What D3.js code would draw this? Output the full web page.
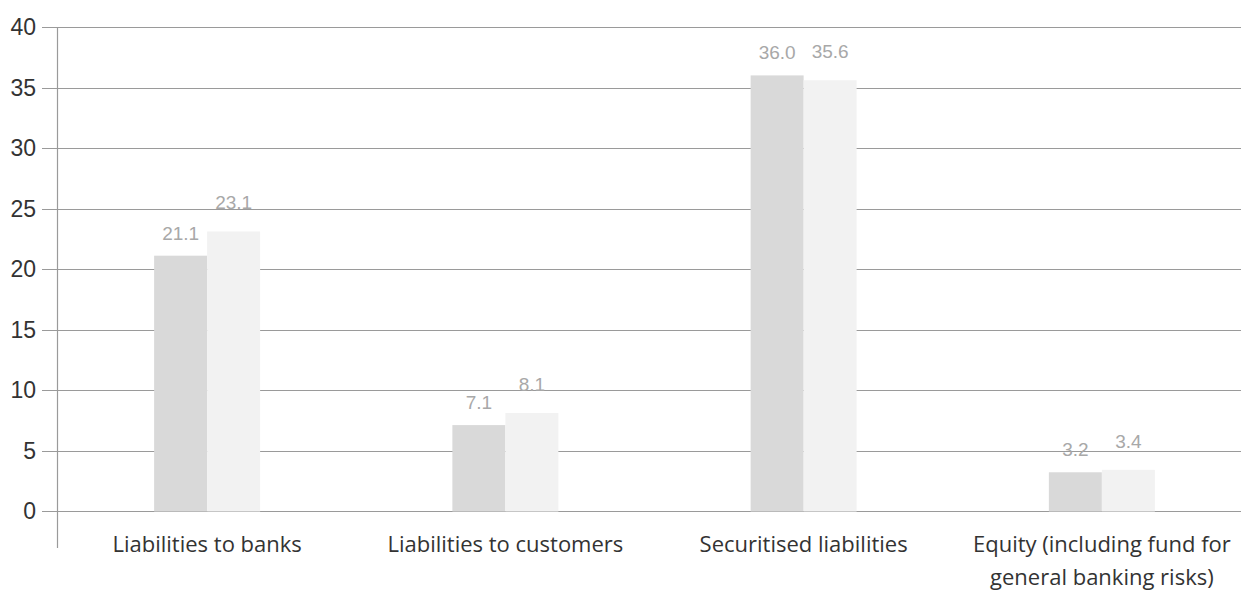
<!DOCTYPE html>
<html>
<head>
<meta charset="utf-8">
<script src="https://cdn.jsdelivr.net/npm/d3@7"></script>
<style>
  body { margin: 0; background: #fff; }
  svg { display: block; }
</style>
</head>
<body>
<svg width="1241" height="592"></svg>
<script>
// categories and values (EUR bn, two years)
var categories = [
    ["Liabilities to banks"],
    ["Liabilities to customers"],
    ["Securitised liabilities"],
    ["Equity (including fund for", "general banking risks)"]
];
var series1 = [21.1, 7.1, 36.0, 3.2];
var series2 = [23.1, 8.1, 35.6, 3.4];
var yTicks = [0, 5, 10, 15, 20, 25, 30, 35, 40];

var svg = d3.select("svg"),
    x0 = 58, x1 = 1251,
    yTop = 27, yBot = 511;

var x = d3.scaleBand()
    .domain(d3.range(categories.length))
    .range([x0, x1])
    .paddingInner(0)
    .paddingOuter(0);

var y = d3.scaleLinear().domain([0, 40]).range([yBot, yTop]);

var barW = 53;

// gridlines
svg.append("g").selectAll("line")
    .data(yTicks)
    .enter().append("line")
    .attr("x1", 42).attr("x2", 1241)
    .attr("y1", function(d) { return Math.round(y(d)) + 0.5; })
    .attr("y2", function(d) { return Math.round(y(d)) + 0.5; })
    .attr("stroke", "#9a9a9a")
    .attr("stroke-width", 1.2);

// y axis line
svg.append("line")
    .attr("x1", 57.5).attr("x2", 57.5)
    .attr("y1", yTop).attr("y2", 548)
    .attr("stroke", "#9a9a9a")
    .attr("stroke-width", 1.2);

// tick labels
svg.append("g").selectAll("text")
    .data(yTicks)
    .enter().append("text")
    .attr("x", 36)
    .attr("y", function(d) { return y(d); })
    .attr("dy", "0.36em")
    .attr("text-anchor", "end")
    .style("font-family", "'Liberation Sans', Arial, sans-serif")
    .style("font-size", "23px")
    .style("fill", "#333")
    .text(function(d) { return d; });

var g = svg.append("g").selectAll("g")
    .data(categories)
    .enter().append("g");

function cx(i) { return x(i) + x.bandwidth() / 2; }

// bars
g.append("rect")
    .attr("x", function(d, i) { return cx(i) - barW; })
    .attr("y", function(d, i) { return y(series1[i]); })
    .attr("width", barW)
    .attr("height", function(d, i) { return yBot - y(series1[i]) + 0.5; })
    .attr("fill", "#d9d9d9");

g.append("rect")
    .attr("x", function(d, i) { return cx(i); })
    .attr("y", function(d, i) { return y(series2[i]); })
    .attr("width", barW)
    .attr("height", function(d, i) { return yBot - y(series2[i]) + 0.5; })
    .attr("fill", "#f2f2f2");

// value labels
var lblStyle = function(sel) {
    sel.style("font-family", "'Liberation Sans', Arial, sans-serif")
       .style("font-size", "19px")
       .style("fill", "#a8a8a8")
       .attr("text-anchor", "middle");
};
g.append("text")
    .attr("x", function(d, i) { return cx(i) - barW / 2; })
    .attr("y", function(d, i) { return y(series1[i]) - 16; })
    .call(lblStyle)
    .text(function(d, i) { return series1[i].toFixed(1); });

g.append("text")
    .attr("x", function(d, i) { return cx(i) + barW / 2; })
    .attr("y", function(d, i) { return y(series2[i]) - 22; })
    .call(lblStyle)
    .text(function(d, i) { return series2[i].toFixed(1); });

// category labels
g.append("text")
    .attr("text-anchor", "middle")
    .style("font-family", "'Open Sans', sans-serif")
    .style("font-size", "22px")
    .style("fill", "#333")
    .selectAll("tspan")
    .data(function(d, i) { return d.map(function(t) { return { t: t, i: i }; }); })
    .enter().append("tspan")
    .attr("x", function(d) { return cx(d.i); })
    .attr("y", function(d, k) { return 552 + k * 33; })
    .text(function(d) { return d.t; });
</script>
</body>
</html>
